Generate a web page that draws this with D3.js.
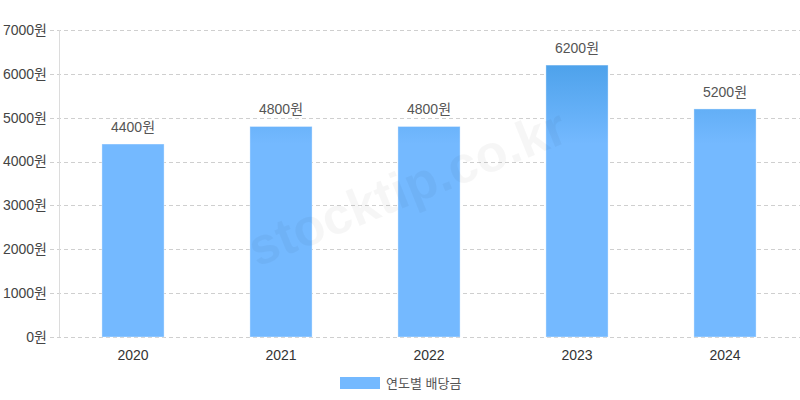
<!DOCTYPE html>
<html><head><meta charset="utf-8">
<script src="https://cdn.jsdelivr.net/npm/d3@7"></script>
<style>body{margin:0;background:#fff}svg{display:block;font-family:"Liberation Sans","Noto Sans CJK KR",sans-serif}</style>
</head><body>
<svg id="c" width="800" height="400"></svg>
<script>
const years = ["2020","2021","2022","2023","2024"];
const dividends = [4400,4800,4800,6200,5200];
const yTicks = [0,1000,2000,3000,4000,5000,6000,7000];
const seriesName = "연도별 배당금";
const unit = "원";

const svg = d3.select("#c");
const m = {l:59, r:799, t:30, b:337};
const x = d3.scaleBand().domain(years).range([m.l, m.r]).paddingInner(0.58).paddingOuter(0.29);
const y = d3.scaleLinear().domain([0,7000]).range([m.b, m.t]);

const defs = svg.append("defs");
const g = defs.append("linearGradient").attr("id","grad").attr("gradientUnits","userSpaceOnUse")
  .attr("x1",0).attr("x2",0).attr("y1",y(7000)).attr("y2",y(4400));
g.append("stop").attr("offset",0).attr("stop-color","#3d98e2");
g.append("stop").attr("offset",1).attr("stop-color","#74b9ff");

// grid
svg.append("g").selectAll("line").data(yTicks).join("line")
  .attr("x1",50).attr("x2",800).attr("y1",d=>Math.round(y(d))+0.5).attr("y2",d=>Math.round(y(d))+0.5)
  .attr("stroke","#cfcfcf").attr("stroke-dasharray","4,3");
// y axis line
svg.append("line").attr("x1",m.l+0.5).attr("x2",m.l+0.5).attr("y1",m.t).attr("y2",m.b)
  .attr("stroke","#dcdcdc");
// y labels
svg.append("g").selectAll("text").data(yTicks).join("text")
  .attr("x",47).attr("y",d=>y(d)).attr("dy","0.35em").attr("text-anchor","end")
  .attr("font-size",14).attr("fill","#444").text(d=>d+unit);
// bars
svg.append("g").selectAll("rect").data(dividends).join("rect")
  .attr("x",(d,i)=>x(years[i])).attr("width",x.bandwidth())
  .attr("y",d=>y(d)).attr("height",d=>y(0)-y(d))
  .attr("fill","url(#grad)").attr("stroke","rgba(255,255,255,0.35)").attr("stroke-width",1);
// value labels
svg.append("g").selectAll("text").data(dividends).join("text")
  .attr("x",(d,i)=>x(years[i])+x.bandwidth()/2).attr("y",d=>y(d)-12)
  .attr("text-anchor","middle").attr("font-size",14).attr("fill","#555").text(d=>d+unit);
// x labels
svg.append("g").selectAll("text").data(years).join("text")
  .attr("x",d=>x(d)+x.bandwidth()/2).attr("y",355).attr("dy","0.35em")
  .attr("text-anchor","middle").attr("font-size",14).attr("fill","#333").text(d=>d);
// legend
svg.append("rect").attr("x",340).attr("y",377).attr("width",40).attr("height",12).attr("fill","#74b9ff");
svg.append("text").attr("x",386).attr("y",383).attr("dy","0.35em").attr("font-size",13).attr("fill","#555").text(seriesName);
// watermark
svg.append("text").attr("transform","translate(407,187) rotate(-22)").attr("text-anchor","middle").attr("dy","0.35em")
  .attr("font-family","Liberation Sans, Arial, sans-serif").attr("font-weight","bold").attr("font-size",52)
  .attr("fill","#000").attr("fill-opacity",0.035).text("stocktip.co.kr");
</script>
</body></html>
